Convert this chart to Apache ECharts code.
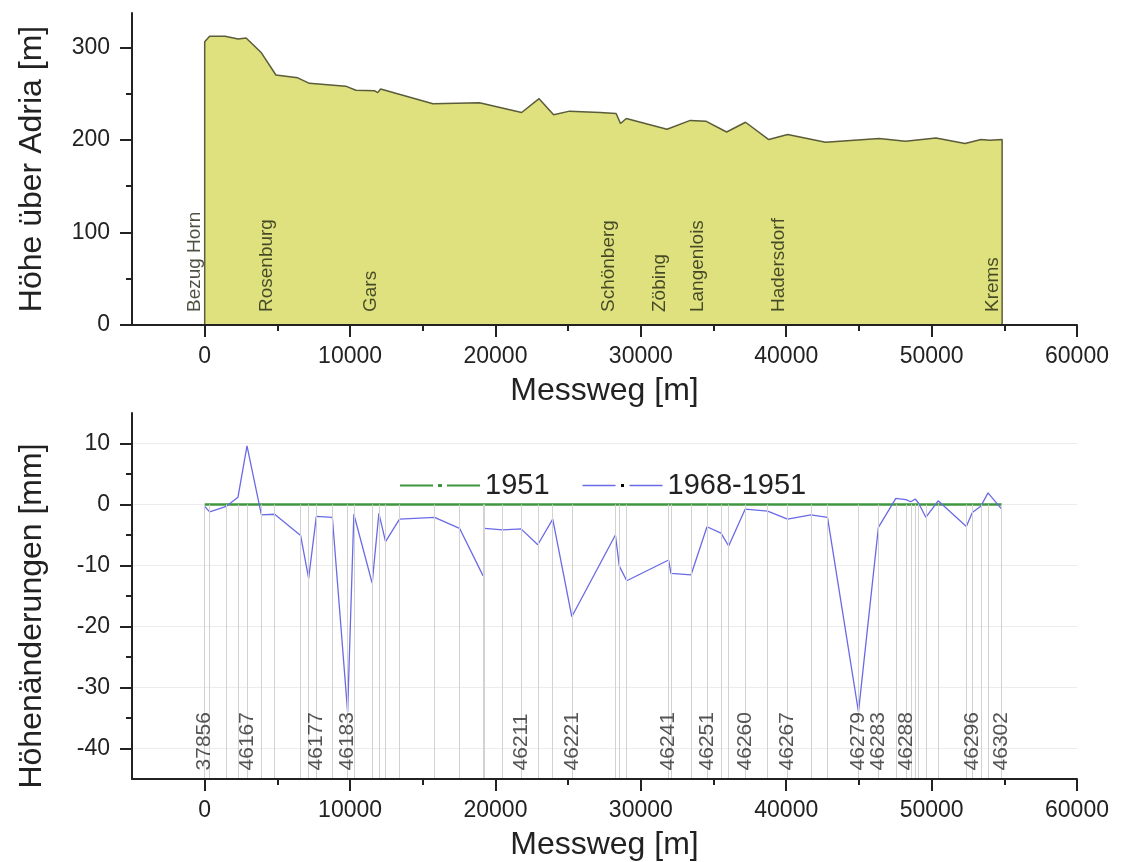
<!DOCTYPE html>
<html>
<head>
<meta charset="utf-8">
<title>Höhenprofil und Höhenänderungen</title>
<script src="https://cdn.jsdelivr.net/npm/echarts@6/dist/echarts.min.js"></script>
<style>
  html, body { margin: 0; padding: 0; background: #fff; }
  #chart { width: 1121px; height: 862px; }
</style>
</head>
<body>
<div id="chart"></div>
<script>
// Höhenprofil: Messweg [m] und Höhe über Adria [m]
var profilWeg   = [0, 0, 340, 1400, 2300, 2850, 3900, 4900, 6400, 7200, 9700, 10400, 11700, 11900, 12100, 13200,
                   15700, 18900, 21800, 23000, 24000, 25100, 27200, 28300, 28600, 29000, 31800, 33400, 34500,
                   35900, 37200, 38800, 40100, 42700, 46400, 48200, 50300, 52300, 53400, 54000, 54850, 54850];
var profilHoehe = [0, 306, 312, 312, 309, 310, 294, 270, 267, 261, 258, 253.5, 253, 251, 255, 250,
                   239, 240, 229.5, 244.5, 227, 231, 229.4, 228.4, 217.6, 223, 211.4, 221, 220,
                   208.5, 219, 200.3, 205.7, 197.4, 201.4, 198.5, 202, 196, 200.3, 199.6, 200.3, 0];

// Orte entlang der Strecke
var orte    = ['Bezug Horn', 'Rosenburg', 'Gars', 'Schönberg', 'Zöbing', 'Langenlois', 'Hadersdorf', 'Krems'];
var orteWeg = [0, 4950, 12100, 28450, 31950, 34600, 40120, 54850];

// Höhenänderungen [mm] an den Höhenpunkten, null = Lücke in der Linie
var punktWeg = [0, 340, 1490, 2290, 2910, 3900, 4810, 6600, 7150, 7680, 8780, 9830, 10260, 11520, 11980,
                12440, 13400, 15810, 17530, 19150, 19200, 19250, 20500, 21760, 22910, 23940, 25250, 28250,
                28520, 29030, 31910, 32070, 33450, 34550, 35510, 36040, 37180, 38720, 40090, 41700, 42840,
                44970, 46340, 47540, 48230, 48570, 48870, 49100, 49600, 50450, 52390, 52800, 53380, 53880, 54820];
var diff1951 = [0, 0, 0, 0, 0, 0, 0, 0, 0, 0, 0, 0, 0, 0, 0,
                0, 0, 0, 0, 0, null, 0, 0, 0, 0, 0, 0, 0,
                0, 0, 0, 0, 0, 0, 0, 0, 0, 0, 0, 0, 0,
                0, 0, 0, 0, 0, 0, 0, 0, 0, 0, 0, 0, 0, 0];
var diff6851 = [-0.3, -1.2, -0.3, 1.2, 9.6, -1.7, -1.6, -5.1, -12.1, -1.95, -2.1, -34, -1.6, -12.9, -1.45,
                -6.1, -2.4, -2.1, -3.9, -11.7, null, -3.9, -4.15, -4.0, -6.6, -2.4, -18.4, -5.0,
                -10.1, -12.5, -9.1, -11.3, -11.55, -3.65, -4.7, -6.8, -0.75, -1.1, -2.4, -1.7, -2.1,
                -34, -3.75, 1.0, 0.8, 0.45, 0.9, 0.25, -2.1, 0.6, -3.6, -1.3, -0.3, 1.9, -0.75];

// beschriftete Höhenpunkte
var nummern    = ['37856', '46167', '46177', '46183', '46211', '46221', '46241', '46251',
                  '46260', '46267', '46279', '46283', '46288', '46296', '46302'];
var nummernWeg = [0, 2910, 7680, 9830, 21760, 25250, 31910, 34550,
                  37180, 40090, 44970, 46340, 48230, 52800, 54820];

// Achsenteilung
var wegTicks   = [0, 10000, 20000, 30000, 40000, 50000, 60000];
var wegMinor   = [5000, 15000, 25000, 35000, 45000, 55000];
var hoeheTicks = [0, 100, 200, 300];
var hoeheMinor = [50, 150, 250];
var diffTicks  = [-40, -30, -20, -10, 0, 10];
var diffMinor  = [-35, -25, -15, -5, 5];

var FONT = 'Liberation Sans, Arial, Helvetica, sans-serif';
var INK = '#222';
var WEG_MIN = -5000, WEG_MAX = 60000;
var DIFF_MIN = -45, DIFF_MAX = 15;
var UNSICHTBAR = 'rgba(0,0,0,0)';

function plain(v) { return String(v); }

function wegAchsen(grid) {
  return [{
    type: 'value', gridIndex: grid, position: 'bottom', min: WEG_MIN, max: WEG_MAX, z: 5,
    name: 'Messweg [m]', nameLocation: 'middle', nameGap: 50,
    nameTextStyle: { fontSize: 32, color: INK, fontFamily: FONT },
    axisLine: { show: true, onZero: false, lineStyle: { color: INK, width: 2 } },
    axisTick: { show: true, customValues: wegTicks, length: 12, lineStyle: { color: INK, width: 2 } },
    axisLabel: { customValues: wegTicks, formatter: plain, margin: 20, fontSize: 23, color: INK, fontFamily: FONT },
    splitLine: { show: false }
  }, {
    type: 'value', gridIndex: grid, position: 'bottom', min: WEG_MIN, max: WEG_MAX, z: 5,
    axisLine: { show: false, onZero: false },
    axisTick: { show: true, customValues: wegMinor, length: 6, lineStyle: { color: INK, width: 2 } },
    axisLabel: { show: false },
    splitLine: { show: false }
  }];
}

// Gitterlinien nur unten; diese Achse bleibt dann unter den Linien (z 0)
function wertAchsen(grid, name, min, max, ticks, minor, gitter, namePad) {
  return [{
    type: 'value', gridIndex: grid, position: 'left', min: min, max: max, z: gitter ? 0 : 5,
    name: name, nameLocation: 'middle', nameGap: 84, nameRotate: 90,
    nameTextStyle: { fontSize: 32, color: INK, fontFamily: FONT, padding: namePad },
    axisLine: { show: true, onZero: false, lineStyle: { color: INK, width: 2 } },
    axisTick: { show: true, customValues: ticks, length: 12, lineStyle: { color: INK, width: 2 } },
    axisLabel: { customValues: ticks, formatter: plain, margin: 22, fontSize: 23, color: INK, fontFamily: FONT },
    splitLine: { show: gitter, lineStyle: { color: '#ececec', width: 1 } }
  }, {
    type: 'value', gridIndex: grid, position: 'left', min: min, max: max, z: 5,
    axisLine: { show: false, onZero: false },
    axisTick: { show: true, customValues: minor, length: 6, lineStyle: { color: INK, width: 2 } },
    axisLabel: { show: false },
    splitLine: { show: false }
  }];
}

function paare(xs, ys) {
  return xs.map(function (x, i) { return [x, ys[i] === null ? '-' : ys[i]]; });
}

// Lote vom Bezugsniveau 1951 bis zur Achse
var lote = [];
punktWeg.forEach(function (d, i) {
  if (diff1951[i] !== null) {
    lote.push([{ coord: [d, diff1951[i]] }, { coord: [d, DIFF_MIN] }]);
  }
});

var iconGruen = 'path://M0,1.4H33V3.6H0Z M38,1H42V4H38Z M47,1.4H80V3.6H47Z';
var iconBlau  = 'path://M0,1.8H33V3.2H0Z M38.5,1H41.5V4H38.5Z M47,1.8H80V3.2H47Z';
var GRUEN = '#3f963f';
var BLAU = '#6a6ae6';

var chart = echarts.init(document.getElementById('chart'));
chart.setOption({
  animation: false,
  backgroundColor: '#fff',
  textStyle: { fontFamily: FONT },
  grid: [
    { left: 132, right: 44, top: 13, height: 312 },
    { left: 132, right: 44, top: 413, height: 366 }
  ],
  xAxis: wegAchsen(0).concat(wegAchsen(1)),
  yAxis: wertAchsen(0, 'Höhe über Adria [m]', 0, 337, hoeheTicks, hoeheMinor, false, [0, 0, 0, 0])
    .concat(wertAchsen(1, 'Höhenänderungen [mm]', DIFF_MIN, DIFF_MAX, diffTicks, diffMinor, true, [0, 40, 0, 0])),
  legend: {
    left: 395, top: 466,
    itemWidth: 80, itemHeight: 3, itemGap: 33,
    textStyle: { fontSize: 29, color: INK, fontFamily: FONT },
    data: [
      { name: '1951', icon: iconGruen, itemStyle: { color: GRUEN, borderWidth: 0 } },
      { name: '1968-1951', icon: iconBlau, itemStyle: {
          borderWidth: 0,
          color: { type: 'linear', x: 0, y: 0, x2: 1, y2: 0, colorStops: [
            { offset: 0, color: BLAU }, { offset: 0.46, color: BLAU },
            { offset: 0.46, color: '#000' }, { offset: 0.54, color: '#000' },
            { offset: 0.54, color: BLAU }, { offset: 1, color: BLAU }
          ] }
        } }
    ]
  },
  series: [
    {
      name: 'Profil', type: 'line', xAxisIndex: 0, yAxisIndex: 0,
      data: paare(profilWeg, profilHoehe),
      showSymbol: false, symbol: 'none', z: 2,
      lineStyle: { color: '#5a5c3a', width: 1.5 },
      areaStyle: { color: '#dfe07e', opacity: 1 }
    },
    {
      name: 'Orte', type: 'scatter', xAxisIndex: 0, yAxisIndex: 0, z: 4,
      symbolSize: 1, itemStyle: { color: UNSICHTBAR }, silent: true,
      data: orte.map(function (n, i) { return { name: n, value: [orteWeg[i], 14] }; }),
      label: {
        show: true, formatter: '{b}', position: 'inside', rotate: 90,
        align: 'left', verticalAlign: 'bottom',
        fontSize: 19, color: '#1e2410', fontFamily: FONT
      }
    },
    {
      name: 'Lote', type: 'line', xAxisIndex: 2, yAxisIndex: 2, z: 1,
      data: [], silent: true,
      markLine: {
        silent: true, symbol: ['none', 'none'], animation: false,
        label: { show: false },
        lineStyle: { color: '#d2d2d2', width: 1, type: 'solid' },
        emphasis: { disabled: true },
        data: lote
      }
    },
    {
      name: '1951', type: 'line', xAxisIndex: 2, yAxisIndex: 2, z: 3,
      data: paare(punktWeg, diff1951).filter(function (p) { return p[1] !== '-'; }),
      showSymbol: false, symbol: 'none',
      lineStyle: { color: GRUEN, width: 2.5, opacity: 1 },
      itemStyle: { color: GRUEN }
    },
    {
      name: '1968-1951', type: 'line', xAxisIndex: 2, yAxisIndex: 2, z: 4,
      data: paare(punktWeg, diff6851),
      showSymbol: false, symbol: 'none', connectNulls: false,
      lineStyle: { color: BLAU, width: 1.3 },
      itemStyle: { color: BLAU }
    },
    {
      name: 'Punktnummern', type: 'scatter', xAxisIndex: 2, yAxisIndex: 2, z: 5,
      symbolSize: 1, itemStyle: { color: UNSICHTBAR }, silent: true,
      data: nummern.map(function (n, i) { return { name: n, value: [nummernWeg[i], -43.6] }; }),
      label: {
        show: true, formatter: '{b}', position: 'inside', rotate: 90,
        align: 'left', verticalAlign: 'middle',
        fontSize: 21, color: '#2a2a2a', fontFamily: FONT
      }
    }
  ]
});
</script>
</body>
</html>
